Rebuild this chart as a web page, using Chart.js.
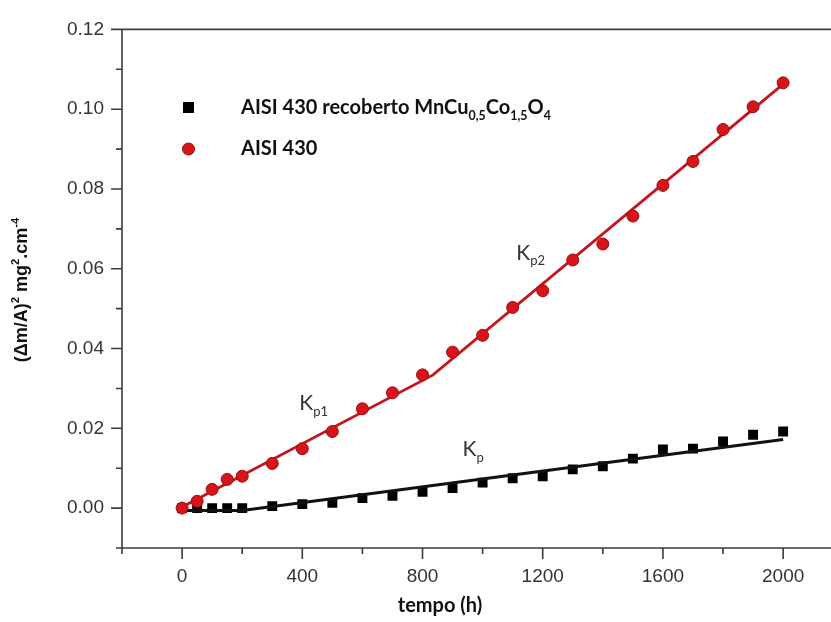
<!DOCTYPE html>
<html>
<head>
<meta charset="utf-8">
<script src="https://cdn.jsdelivr.net/npm/chart.js@4.4.1/dist/chart.umd.min.js"></script>
<style>
  html, body { margin: 0; padding: 0; background: #fff; }
</style>
</head>
<body>
<canvas id="chartCanvas" width="831" height="622"></canvas>
<script>
// tempo (h)
const tempos = [0, 50, 100, 150, 200, 300, 400, 500, 600, 700, 800, 900, 1000,
  1100, 1200, 1300, 1400, 1500, 1600, 1700, 1800, 1900, 2000];
// (dm/A)^2 - AISI 430 sem recobrimento
const aisi430 = [0, 0.0017, 0.0047, 0.0072, 0.008, 0.0112, 0.0149, 0.0192, 0.0249,
  0.0289, 0.0334, 0.0391, 0.0433, 0.0503, 0.0545, 0.0622, 0.0662, 0.0732, 0.0809,
  0.0869, 0.0949, 0.1006, 0.1066];
// AISI 430 recoberto MnCu0,5Co1,5O4
const aisiRecoberto = [0, 0, 0, 0, 0, 0.0005, 0.001, 0.0013, 0.0025, 0.0031, 0.0041,
  0.005, 0.0064, 0.0075, 0.008, 0.0097, 0.0105, 0.0124, 0.0147, 0.0149, 0.0167,
  0.0184, 0.0192];

// retas ajustadas (Kp1 / Kp2 e Kp)
const ajusteAisiT = [0, 835, 2000];
const ajusteAisiY = [0.0003, 0.0334, 0.1063];
const ajusteRecT = [0, 200, 2000];
const ajusteRecY = [-0.0006, -0.0006, 0.0172];

const xTicks = [0, 400, 800, 1200, 1600, 2000];
const xMinor = [-200, 200, 600, 1000, 1400, 1800];
const yTicks = [0, 0.02, 0.04, 0.06, 0.08, 0.10, 0.12];
const yMinor = [-0.01, 0.01, 0.03, 0.05, 0.07, 0.09, 0.11];

// rótulos das constantes: [texto, subscrito, tempo, valor]
const rotulosK = [
  ['K', 'p1', 390, 0.0245],
  ['K', 'p2', 1112, 0.0623],
  ['K', 'p', 933, 0.013]
];

const pares = (xs, ys) => xs.map((x, i) => ({ x: x, y: ys[i] }));

const AXIS = '#3c3c3c';

// desenha texto com sub/sobrescritos
function textoRico(c, partes, x, y, base, family, weight) {
  let px = x;
  partes.forEach(p => {
    const size = p.s ? base * 0.62 : base;
    const dy = p.s === 'sub' ? base * 0.28 : (p.s === 'sup' ? -base * 0.42 : 0);
    c.font = `${weight} ${size}px ${family}`;
    c.fillText(p.t, px, y + dy);
    px += c.measureText(p.t).width;
  });
  return px - x;
}

const extras = {
  id: 'extras',
  afterDraw(chart) {
    const c = chart.ctx;
    const a = chart.chartArea;
    const xs = chart.scales.x, ys = chart.scales.y;
    c.save();
    c.strokeStyle = AXIS;
    c.lineWidth = 1.6;
    c.beginPath();
    c.moveTo(a.left, a.top); c.lineTo(a.left, a.bottom);
    c.moveTo(a.left, a.bottom); c.lineTo(chart.width, a.bottom);
    c.moveTo(a.left, a.top); c.lineTo(chart.width, a.top);
    yTicks.forEach(v => { const p = ys.getPixelForValue(v); c.moveTo(a.left - 11, p); c.lineTo(a.left, p); });
    yMinor.forEach(v => { const p = ys.getPixelForValue(v); c.moveTo(a.left - 6, p); c.lineTo(a.left, p); });
    xTicks.forEach(v => { const p = xs.getPixelForValue(v); c.moveTo(p, a.bottom); c.lineTo(p, a.bottom + 11); });
    xMinor.forEach(v => { const p = xs.getPixelForValue(v); c.moveTo(p, a.bottom); c.lineTo(p, a.bottom + 6); });
    c.stroke();

    // legenda
    c.fillStyle = '#000';
    c.fillRect(183, 102, 11, 11);
    c.beginPath();
    c.arc(188.5, 149, 6, 0, Math.PI * 2);
    c.fillStyle = '#d7141a';
    c.fill();
    c.strokeStyle = '#9c0c10';
    c.lineWidth = 1;
    c.stroke();
    c.fillStyle = '#111';
    c.textBaseline = 'alphabetic';
    c.textAlign = 'left';
    textoRico(c, [{ t: 'AISI 430 recoberto MnCu' }, { t: '0,5', s: 'sub' }, { t: 'Co' },
      { t: '1,5', s: 'sub' }, { t: 'O' }, { t: '4', s: 'sub' }], 241, 114, 20, 'Lato', 'bold');
    textoRico(c, [{ t: 'AISI 430' }], 241, 155, 20, 'Lato', 'bold');

    // rótulos Kp
    c.fillStyle = '#333';
    rotulosK.forEach(r => {
      textoRico(c, [{ t: r[0] }, { t: r[1], s: 'sub' }],
        xs.getPixelForValue(r[2]), ys.getPixelForValue(r[3]), 21, 'Lato', 'normal');
    });

    // título eixo x
    c.fillStyle = '#111';
    c.font = 'bold 20px Lato';
    c.textAlign = 'center';
    c.fillText('tempo (h)', 440, 612);

    // título eixo y
    c.translate(27, 290);
    c.rotate(-Math.PI / 2);
    c.textAlign = 'left';
    const partesY = [{ t: '(\u0394m/A)' }, { t: '2', s: 'sup' }, { t: ' mg' }, { t: '2', s: 'sup' },
      { t: '.cm' }, { t: '-4', s: 'sup' }];
    c.globalAlpha = 0;
    const w = textoRico(c, partesY, 0, 0, 18, '"Liberation Sans"', 'bold');
    c.globalAlpha = 1;
    textoRico(c, partesY, -w / 2, 0, 18, '"Liberation Sans"', 'bold');
    c.restore();
  }
};

const tickFont = { family: '"Liberation Sans", Arial', size: 19 };

new Chart(document.getElementById('chartCanvas'), {
  type: 'scatter',
  data: {
    datasets: [
      {
        label: 'AISI 430',
        data: pares(tempos, aisi430),
        backgroundColor: '#d7141a',
        borderColor: '#9c0c10',
        borderWidth: 1,
        pointRadius: 6,
        order: 0
      },
      {
        label: 'ajuste AISI 430',
        data: pares(ajusteAisiT, ajusteAisiY),
        showLine: true,
        borderColor: '#c4161c',
        borderWidth: 2.8,
        pointRadius: 0,
        order: 1
      },
      {
        label: 'ajuste recoberto',
        data: pares(ajusteRecT, ajusteRecY),
        showLine: true,
        borderColor: '#111',
        borderWidth: 2.8,
        pointRadius: 0,
        order: 2
      },
      {
        label: 'AISI 430 recoberto MnCu0,5Co1,5O4',
        data: pares(tempos, aisiRecoberto),
        pointStyle: 'rect',
        backgroundColor: '#000',
        borderColor: '#000',
        borderWidth: 0,
        pointRadius: 7,
        order: 3
      }
    ]
  },
  options: {
    responsive: false,
    animation: false,
    devicePixelRatio: 1,
    layout: { padding: { top: 19, right: 0, left: 0, bottom: 0 } },
    plugins: { legend: { display: false }, tooltip: { enabled: false } },
    scales: {
      x: {
        type: 'linear',
        min: -200,
        max: 2136,
        afterBuildTicks: s => { s.ticks = xTicks.map(v => ({ value: v })); },
        afterFit: s => { s.height = 74; },
        grid: { display: false, drawTicks: false },
        border: { display: false },
        ticks: { font: tickFont, color: '#333', padding: 17, maxRotation: 0, autoSkip: false,
          callback: v => String(v) }
      },
      y: {
        type: 'linear',
        min: -0.01,
        max: 0.12,
        afterBuildTicks: s => { s.ticks = yTicks.map(v => ({ value: v })); },
        afterFit: s => { s.width = 122; },
        grid: { display: false, drawTicks: false },
        border: { display: false },
        ticks: { font: tickFont, color: '#333', padding: 18, callback: v => v.toFixed(2) }
      }
    }
  },
  plugins: [extras]
});
</script>
</body>
</html>
